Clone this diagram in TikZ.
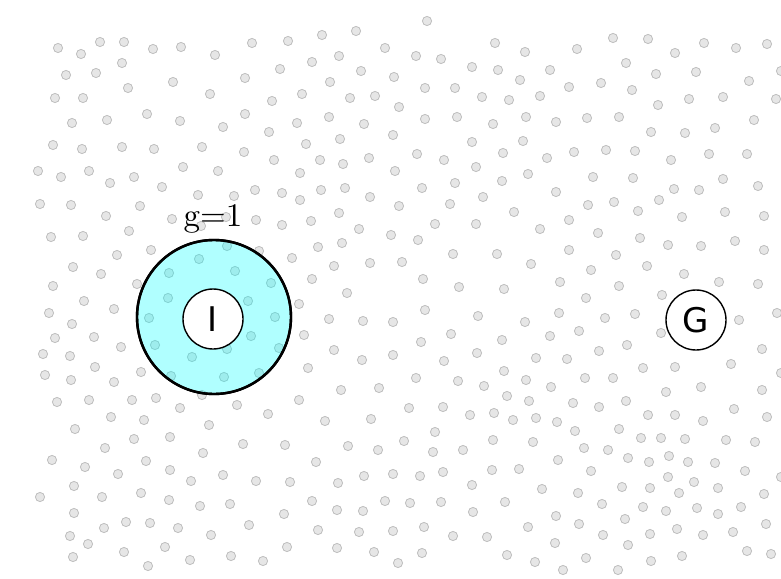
\documentclass[tikz,border=0pt]{standalone}
\usepackage{fontspec}
\newfontfamily\agentfont{DejaVu Sans}
\newfontfamily\labelfont{lmroman10-regular.otf}
\begin{document}
\begin{tikzpicture}[x=1pt,y=-1pt,
  dot/.style={draw=dotline,fill=dotfill,line width=0.8pt},
  agent/.style={circle,draw=black,fill=white,line width=1.4pt,minimum size=60pt,inner sep=0pt,font=\agentfont\fontsize{34}{36}\selectfont},
  zone/.style={circle,draw=black,fill=zonecyan,fill opacity=0.31,line width=2.4pt,minimum size=154pt,inner sep=0pt}]
\definecolor{dotfill}{RGB}{230,230,230}
\definecolor{dotline}{RGB}{190,190,190}
\definecolor{zonecyan}{RGB}{0,255,255}
\useasboundingbox (0,0) rectangle (781,578);
\foreach \x/\y in {
58/48,81/54,100/42,124/42,153/49,181/47,215/55,252/43,288/41,322/35,356/31,385/48,
122/63,66/75,96/73,173/82,128/88,245/78,280/69,312/62,339/56,361/71,330/82,
55/98,83/98,210/94,272/101,302/94,350/98,375/96,
72/123,107/120,147/114,180/121,223/127,245/114,269/132,297/123,329/117,364/124,
53/145,82/149,122/147,154/149,202/147,244/152,306/144,340/139,274/160,320/160,343/164,369/158,
38/171,61/177,89/171,110/183,134/177,183/167,218/171,162/187,300/173,
198/195,234/196,255/190,282/193,300/200,321/190,345/188,370/197,
40/204,71/205,140/206,106/216,172/219,226/217,201/226,256/220,282/225,311/221,339/213,359/229,
51/237,83/236,129/231,151/250,117/255,73/267,101/274,53/286,137/284,
318/247,342/243,292/258,334/266,370/263,312/279,
199/259,227/246,169/273,235/271,271/283,259/251,
84/301,49/313,114/309,72/324,55/338,94/337,121/347,43/354,70/356,95/367,45/375,71/380,114/382,141/372,
57/402,89/400,132/400,156/398,180/408,202/395,237/405,268/414,299/400,
111/417,144/420,209/425,75/429,134/439,170/437,105/448,203/453,243/444,285/445,
52/460,85/467,146/461,170/470,118/474,191/481,223/475,256/481,290/482,316/462,348/446,378/450,325/421,371/419,
74/486,40/497,102/497,141/493,169/500,200/506,230/504,74/513,126/522,150/523,104/528,178/528,211/535,249/525,284/514,
312/501,338/483,364/476,337/510,363/511,385/501,318/530,359/532,
70/536,88/544,73/557,124/552,148/566,165/547,190/560,231/556,263/561,287/547,337/548,374/552,
299/304,329/319,363/321,304/335,334/350,362/360,308/368,341/390,379/388,347/293,
168/298,149/318,155/345,192/357,171/376,224/377,259/373,279/348,275/317,251/336,248/301,227/349,
427/21,495/43,525/52,577/49,613/38,648/39,675/53,704/43,736/48,767/44,781/71,
416/56,441/59,472/67,498/70,550/70,520/80,626/63,656/74,696/72,749/81,394/77,
425/88,455/88,482/97,509/100,540/96,569/87,601/83,632/90,658/105,689/99,723/97,776/99,
399/107,425/119,457/117,493/124,526/117,556/122,587/118,619/117,651/132,685/133,715/128,754/120,
393/135,472/142,523/141,417/154,444/160,476/167,503/153,547/158,574/152,606/150,635/151,671/160,709/154,747/154,
395/171,422/188,455/183,502/181,528/174,556/192,593/177,633/178,674/189,699/190,723/179,758/186,
399/206,450/204,483/197,514/212,588/205,614/202,638/211,659/200,682/217,725/212,764/216,
435/224,476/224,540/229,569/220,598/233,640/238,668/245,701/246,735/241,764/250,391/235,418/240,
402/262,453/254,497/254,531/264,569/250,616/255,591/270,647/266,684/274,719/282,758/284,
423/279,459/287,504/289,560/282,619/286,
586/298,662/295,425/310,393/322,478/316,525/322,559/313,605/318,635/314,661/333,739/320,777/313,
451/334,421/342,502/340,550/336,579/331,627/345,599/351,393/355,444/361,477/353,536/358,567/359,762/349,731/364,643/368,675/367,
416/378,458/381,484/386,504/371,526/380,551/387,585/378,613/378,666/392,701/387,762/390,781/373,
409/408,443/407,470/415,494/413,507/396,529/401,513/420,536/418,557/422,573/403,599/407,626/401,648/415,675/415,703/421,734/409,767/417,
404/441,435/432,433/452,463/450,493/440,533/442,575/431,584/448,608/450,619/429,641/438,661/438,685/439,726/440,755/442,
393/474,420/476,443/472,492/470,519/469,558/460,591/471,628/458,649/462,669/456,688/462,715/463,745/471,781/477,
472/485,542/489,578/493,622/487,650/488,668/477,694/482,718/488,679/493,764/494,
410/503,441/502,505/502,473/512,602/504,643/507,666/511,697/508,718/514,741/507,556/516,579/524,625/519,
393/531,424/527,453/536,487/537,528/527,603/535,650/534,677/529,703/535,733/532,766/524,
398/563,422/553,507/555,535/562,555/543,563/570,586/558,618/570,628/545,651/561,682/556,747/551,771/554}
  \path[dot] (\x,\y) circle (4.6);
\node[font=\labelfont\fontsize{33}{36}\selectfont] (glabel) at (213,218.5) {g=1};
\node[zone] (zone) at (214,317) {};
\draw[line width=2.4pt] (zone.center) circle (77);
\node[agent] (I) at (213,319) {I};
\node[agent] (G) at (696,320) {G};
\end{tikzpicture}
\end{document}
